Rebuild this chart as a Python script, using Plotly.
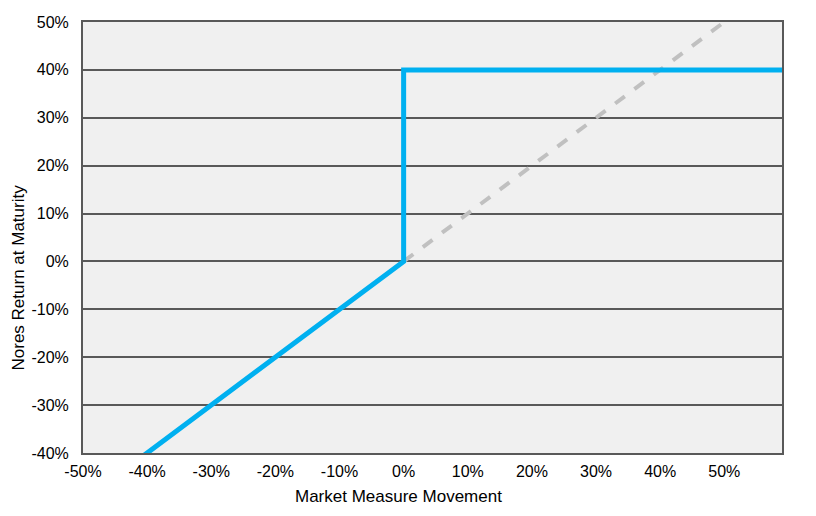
import plotly.graph_objects as go

# Data (percent)
note_x = [-50, 0, 0, 59]
note_y = [-50, 0, 40, 40]
mkt_x = [0, 60]
mkt_y = [0, 60]
x_ticks = [-50, -40, -30, -20, -10, 0, 10, 20, 30, 40, 50]
x_labels = [f"{v}%" for v in x_ticks]
y_ticks = [-40, -30, -20, -10, 0, 10, 20, 30, 40, 50]
y_labels = [f"{v}%" for v in y_ticks]
x_title = "Market Measure Movement"
y_title = "Nores Return at Maturity"

fig = go.Figure()
fig.add_trace(go.Scatter(x=mkt_x, y=mkt_y, mode="lines",
                         line=dict(color="#c0c0c0", width=4, dash="dash"),
                         hoverinfo="skip", showlegend=False))
fig.add_trace(go.Scatter(x=note_x, y=note_y, mode="lines",
                         line=dict(color="#00b0f0", width=5),
                         showlegend=False))

font = dict(family="Liberation Sans, Arial, sans-serif", size=16, color="#000000")
fig.update_layout(
    width=800, height=500,
    margin=dict(l=75, r=26, t=14, b=55),
    paper_bgcolor="white", plot_bgcolor="#f0f0f0",
    font=font,
)
fig.update_xaxes(
    range=[-50, 59], tickvals=x_ticks, ticktext=x_labels,
    showgrid=False, zeroline=False, automargin=False,
    showline=True, mirror=True, linecolor="#595959", linewidth=2,
    ticks="", ticklabelstandoff=3,
)
fig.update_yaxes(
    range=[-40, 50], tickvals=y_ticks, ticktext=y_labels,
    showgrid=True, gridcolor="#595959", gridwidth=1.5, zeroline=False, automargin=False,
    showline=True, mirror=True, linecolor="#595959", linewidth=2,
    ticks="", ticklabelstandoff=9,
)
fig.add_annotation(text=x_title, xref="paper", yref="paper", x=0.4514, y=0,
                   xanchor="center", yanchor="middle", yshift=-43, showarrow=False,
                   font=dict(size=17))
fig.add_annotation(text=y_title, xref="paper", yref="paper", x=0, y=0.4072,
                   xanchor="center", yanchor="middle", xshift=-65, textangle=-90,
                   showarrow=False, font=dict(size=17))
fig.write_html("out.html")
